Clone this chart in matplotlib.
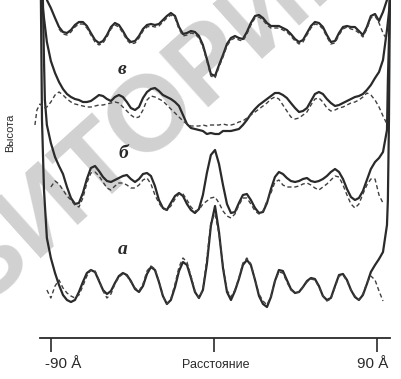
import numpy as np
import matplotlib.pyplot as plt

# distance along the section, angstrom (sampling positions)
dist = [-92.3, -90.1, -87.8, -85.6, -83.4, -81.2, -79.0, -76.8, -74.6, -72.4,
        -70.2, -68.0, -65.7, -63.5, -61.3, -59.1, -56.9, -54.7, -52.5, -50.3,
        -48.1, -45.9, -43.6, -41.4, -39.2, -37.0, -34.8, -32.6, -30.4, -28.2,
        -26.0, -23.8, -21.5, -19.3, -17.1, -14.9, -12.7, -10.5, -8.3, -6.1,
        -3.9, -1.7, 0.6, 2.8, 5.0, 7.2, 9.4, 11.6, 13.8, 16.0,
        18.2, 20.4, 22.7, 24.9, 27.1, 29.3, 31.5, 33.7, 35.9, 38.1,
        40.3, 42.5, 44.8, 47.0, 49.2, 51.4, 53.6, 55.8, 58.0, 60.2,
        62.4, 64.6, 66.9, 69.1, 71.3, 73.5, 75.7, 77.9, 80.1, 82.3,
        84.5, 86.7, 89.0, 91.2, 93.4, 95.6]

# heights (arbitrary units, stacked profiles), solid and dashed
g_solid = [338, 330, 320, 311, 306, 305, 308, 313, 316, 316, 312, 305, 298, 295, 297, 303, 311, 315, 313, 307,
           300, 296, 297, 302, 309, 313, 314, 313, 314, 318, 322, 325, 322, 311, 304, 305, 307, 306, 302, 293,
           279, 264, 262, 273, 283, 294, 300, 302, 300, 299, 306, 315, 322, 323, 320, 315, 312, 312, 312, 310,
           308, 304, 299, 296, 298, 305, 312, 316, 315, 311, 303, 296, 297, 305, 311, 312, 311, 311, 307, 303,
           311, 322, 324, 317, 326, 338]
g_dash = [np.nan, np.nan, np.nan, 309, 304, 303, 306, 311, 314, 314, 310, 303, 296, 293, 295, 301, 309, 313, 311, 305,
          298, 294, 295, 300, 307, 311, 312, 311, 312, 316, 320, 323, 320, 309, 302, 303, 305, 304, 300, 291,
          277, 262, 260, 271, 281, 292, 298, 300, 298, 297, 304, 313, 320, 321, 318, 313, 310, 310, 310, 308,
          306, 302, 297, 294, 296, 303, 310, 314, 313, 309, 301, 294, 295, 303, 309, 311, 309, 308, 305, 301,
          309, 320, 322, 315, 305, 298]
v_solid = [296, 277, 265, 256, 249, 244, 241, 239, 238, 236, 236, 237, 240, 243, 242, 239, 237, 241, 243, 241,
           236, 230, 228, 231, 240, 246, 249, 250, 247, 243, 241, 239, 236, 232, 223, 214, 210, 209, 208, 207,
           204, 205, 204, 204, 207, 207, 207, 208, 209, 213, 218, 224, 229, 233, 236, 239, 242, 245, 245, 243,
           240, 235, 230, 226, 227, 230, 237, 244, 246, 244, 239, 235, 232, 233, 235, 237, 239, 241, 242, 244,
           248, 253, 260, 266, 278, 308]
v_dash = [231, 236, 243, 246, 243, 239, 236, 234, 233, 232, 231, 231, 232, 233, 233, 234, 235, 236, 235, 231,
          227, 223, 220, 221, 228, 238, 242, 241, 239, 237, 233, 229, 225, 221, 217, 214, 212, 212, 212, 213,
          212, 213, 213, 213, 214, 213, 213, 214, 216, 217, 220, 223, 226, 229, 232, 235, 239, 241, 239, 233,
          227, 221, 219, 220, 223, 226, 233, 239, 240, 236, 230, 227, 228, 230, 231, 233, 235, 236, 238, 241,
          245, 243, 238, 231, 222, 214]
b_solid = [213, 195, 181, 172, 164, 151, 140, 134, 135, 145, 159, 170, 172, 167, 161, 157, 156, 158, 160, 162,
           163, 159, 156, 159, 164, 165, 162, 152, 138, 130, 128, 135, 142, 145, 142, 134, 128, 125, 129, 143,
           165, 183, 188, 174, 153, 134, 125, 126, 135, 143, 144, 138, 130, 125, 126, 135, 149, 161, 166, 164,
           160, 157, 156, 157, 159, 160, 157, 156, 157, 159, 162, 166, 169, 166, 159, 149, 141, 138, 140, 147,
           158, 169, 176, 180, 186, 208]
b_dash = [np.nan, 151, 157, 154, 148, 142, 138, 133, 131, 140, 155, 165, 166, 162, 156, 150, 148, 152, 155, 155,
          153, 150, 150, 153, 158, 160, 154, 143, 135, 129, 128, 132, 139, 144, 144, 138, 131, 127, 128, 134,
          137, 140, 141, 135, 127, 122, 120, 124, 133, 140, 140, 134, 127, 124, 127, 137, 145, 156, 158, 153,
          151, 151, 151, 152, 154, 155, 153, 150, 148, 151, 154, 158, 162, 161, 153, 143, 134, 130, 134, 144,
          153, 159, 159, 143, 135, np.nan]
a_solid = [100, 80, 65, 53, 43, 38, 36, 38, 46, 56, 65, 68, 66, 57, 48, 44, 47, 55, 62, 65,
           63, 57, 49, 46, 52, 64, 71, 68, 56, 42, 34, 38, 51, 67, 76, 73, 60, 46, 40, 48,
           74, 112, 132, 106, 70, 46, 38, 47, 59, 73, 78, 73, 58, 42, 34, 31, 41, 57, 68, 67,
           58, 49, 45, 46, 51, 57, 60, 59, 52, 42, 38, 40, 52, 63, 64, 58, 48, 41, 38, 43,
           54, 66, 73, 79, 86, 113]
a_dash = [48, 40, 52, 58, 50, 45, 42, 40, 43, 52, 62, 68, 67, 58, 47, 40, 44, 54, 61, 64,
          62, 56, 50, 47, 54, 67, 72, 69, 57, 42, 34, 39, 54, 71, 80, 76, 62, 47, 40, 48,
          80, 116, 124, 104, 72, 48, 41, 48, 60, 75, 80, 74, 58, 44, 37, 33, 42, 57, 66, 65,
          56, 48, 45, 46, 51, 56, 59, 58, 51, 42, 37, 39, 51, 62, 63, 57, 48, 42, 38, 44,
          55, 62, 58, 47, 37, np.nan]

# steep edge segments of the profiles (left / right ends)
v_left_x, v_left_y = [-95.0, -93.9], [338, 320]
v_right_x, v_right_y = [96.7, 97.2], [326, 338]
v_dash_left_x, v_dash_left_y = [-98.9, -97.8, -96.1, -93.9], [213, 228, 234, 230]
b_left_x, b_left_y = [-94.5, -93.9, -93.4], [338, 278, 238]
b_right_x, b_right_y = [96.1, 96.7, 97.2], [258, 298, 338]
a_left_x, a_left_y = [-95.6, -95.0, -93.9], [338, 218, 148]
a_right_x, a_right_y = [96.1, 96.7, 97.2], [138, 218, 338]

curve_letters = ['в', 'б', 'а']
letter_x = [-50.8, -50.3, -50.3]
letter_y = [268, 185, 88]

fig = plt.figure(figsize=(4.02, 3.79), dpi=100)
ax = fig.add_axes([0, 0, 1, 1])
ax.set_xlim(-118.2, 103.9)
ax.set_ylim(-41, 338)

ink = '#2a2a2a'
solid_kw = dict(color=ink, lw=1.6, solid_joinstyle='round', solid_capstyle='round', zorder=3)
dash_kw = dict(color='#404040', lw=1.0, dashes=(3, 2), zorder=3)

ax.plot(dist, g_solid, **solid_kw)
ax.plot(v_left_x + dist + v_right_x, v_left_y + v_solid + v_right_y, **solid_kw)
ax.plot(b_left_x + dist + b_right_x, b_left_y + b_solid + b_right_y, **solid_kw)
ax.plot(a_left_x + dist + a_right_x, a_left_y + a_solid + a_right_y, **solid_kw)

ax.plot(dist, g_dash, **dash_kw)
ax.plot(v_dash_left_x + dist, v_dash_left_y + v_dash, **dash_kw)
ax.plot(dist, b_dash, **dash_kw)
ax.plot(dist, a_dash, **dash_kw)

for lab, lx, ly in zip(curve_letters, letter_x, letter_y):
    ax.text(lx, ly, lab, family='Liberation Serif', style='italic', weight='bold',
            fontsize=14, ha='center', va='center', color=ink)

# axis
for s in ['left', 'top', 'right']:
    ax.spines[s].set_visible(False)
ax.spines['bottom'].set_position(('data', 0))
ax.spines['bottom'].set_bounds(-96.1, 97.2)
ax.spines['bottom'].set_linewidth(1.3)
ax.spines['bottom'].set_color(ink)
ax.set_yticks([])
ax.set_xticks([-90, 0, 90])
ax.set_xticklabels(['', '', ''])
ax.tick_params(axis='x', direction='out', length=10, width=1.2, color=ink)

ax.text(-93.4, -30, '-90 Å', family='Liberation Sans', fontsize=11, ha='left',
        va='baseline', color=ink)
ax.text(79, -30, '90 Å', family='Liberation Sans', fontsize=11, ha='left',
        va='baseline', color=ink)
ax.text(1.1, -30, 'Расстояние', family='Liberation Sans', fontsize=9, ha='center',
        va='baseline', color=ink)
ax.text(-112.7, 205, 'Высота', family='Liberation Sans', fontsize=8, rotation=90,
        ha='center', va='center', color=ink)

# scan watermark
ax.text(-93.4, 128, 'РЕПОЗИТОРИЙ', family='Liberation Sans', weight='bold',
        fontsize=78, rotation=42, rotation_mode='anchor', ha='center', va='center',
        color='#c2c2c2', alpha=0.75, zorder=1)

fig.savefig('out.png', dpi=100)
